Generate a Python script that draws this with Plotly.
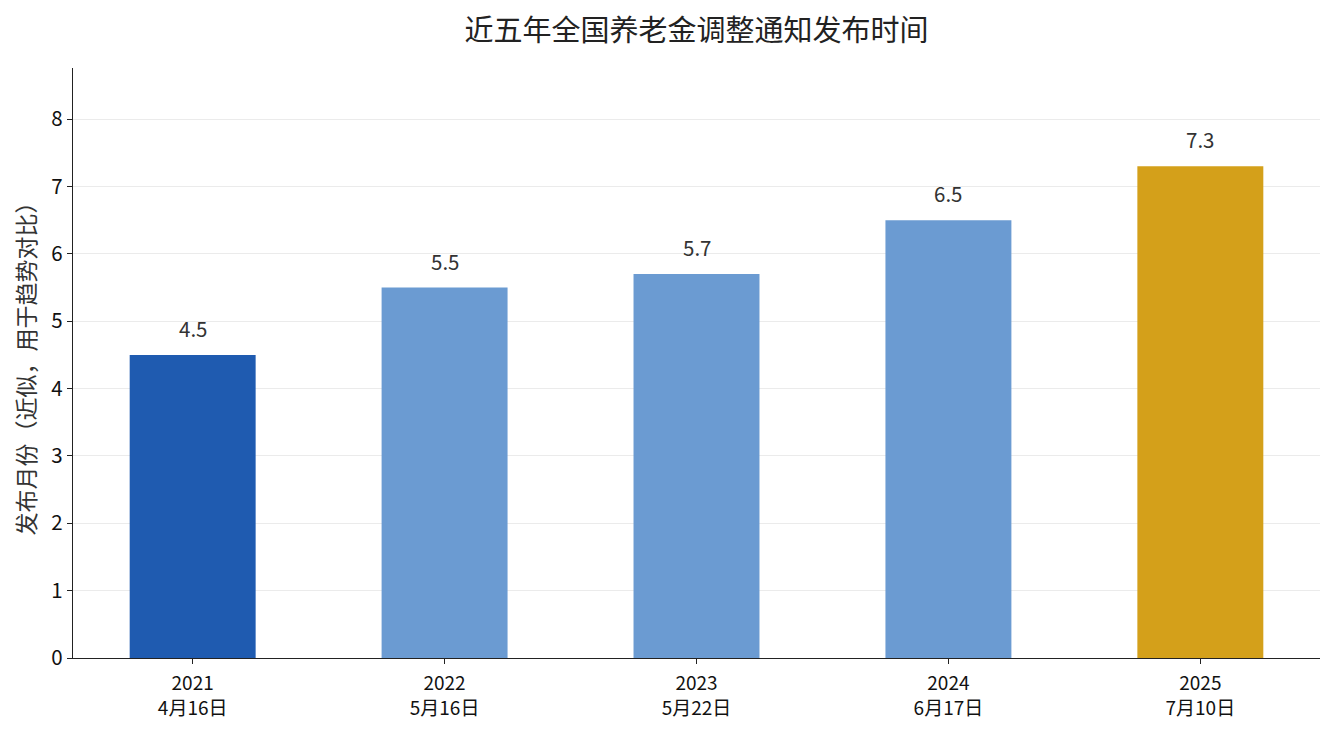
import plotly.graph_objects as go

# data
years = ["2021", "2022", "2023", "2024", "2025"]
dates = ["4月16日", "5月16日", "5月22日", "6月17日", "7月10日"]
months = [4.5, 5.5, 5.7, 6.5, 7.3]
colors = ["#1f5bb0", "#6b9bd2", "#6b9bd2", "#6b9bd2", "#d4a01a"]

labels = [f"{y}<br>{d}" for y, d in zip(years, dates)]
font = "Noto Sans CJK SC"

fig = go.Figure()
fig.add_trace(go.Bar(
    x=labels, y=months,
    marker=dict(color=colors, line=dict(width=0)),
    width=0.5,
    hoverinfo="skip",
))

for lab, v in zip(labels, months):
    fig.add_annotation(x=lab, y=v, text=f"{v:.1f}", showarrow=False,
                       yanchor="bottom", yshift=10,
                       font=dict(family=font, size=20.5, color="#333333"))

# page body adds an 8px offset, so the figure is sized to fit the window
fig.update_layout(
    width=1319, height=719,
    margin=dict(l=65, r=7, t=60, b=69),
    paper_bgcolor="white", plot_bgcolor="white",
    showlegend=False,
    font=dict(family=font, size=19, color="#111111"),
    title=dict(text="近五年全国养老金调整通知发布时间", x=0.5, xref="paper",
               xanchor="center", y=0.968, yanchor="middle",
               font=dict(family=font, size=29, color="#222222")),
)
fig.update_xaxes(
    range=[-0.475, 4.475], showline=True, linecolor="#222222", linewidth=1.4,
    ticks="outside", ticklen=5, tickcolor="#222222", showgrid=False,
    ticklabelstandoff=3, automargin=False,
    tickfont=dict(family=font, size=19, color="#111111"),
)
fig.update_yaxes(
    range=[0, 8.76], dtick=1, showline=True, linecolor="#222222", linewidth=1.4,
    ticks="outside", ticklen=5, tickcolor="#222222",
    showgrid=True, gridcolor="rgba(204,204,204,0.4)", gridwidth=1,
    zeroline=False, layer="above traces", automargin=False,
    tickfont=dict(family=font, size=20.5, color="#111111"),
    title=dict(text="发布月份（近似，用于趋势对比）", standoff=12,
               font=dict(family=font, size=23, color="#333333")),
)

fig.write_html("out.html")
